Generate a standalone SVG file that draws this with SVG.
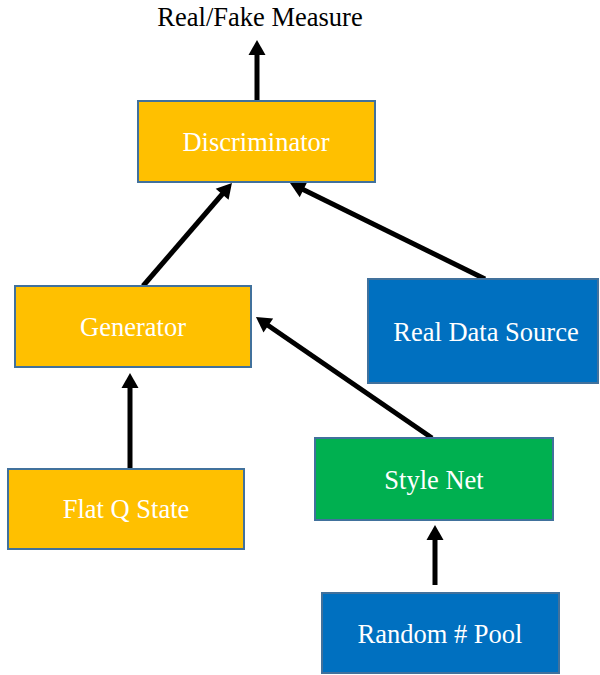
<svg xmlns="http://www.w3.org/2000/svg" width="600" height="675" viewBox="0 0 600 675">
<style>
.box{stroke:#41719C;stroke-width:2}
.o{fill:#FFC000}.b{fill:#0070C0}.g{fill:#00B050}
.lbl{font-family:"Liberation Serif","Times New Roman",serif;font-size:26.5px;fill:#FFFFFF;text-anchor:middle}
.title{font-family:"Liberation Serif","Times New Roman",serif;font-size:26.5px;fill:#000000;text-anchor:middle}
.arr{stroke:#000;stroke-width:5;fill:none;marker-end:url(#ah)}
</style>
<defs>
<marker id="ah" markerUnits="userSpaceOnUse" markerWidth="17" markerHeight="17" refX="5" refY="8.5" orient="auto" overflow="visible">
<path d="M0,0 L15,8.5 L0,17 Z" fill="#000"/>
</marker>
</defs>
<rect width="600" height="675" fill="#FFFFFF"/>
<text class="title" x="260" y="26">Real/Fake Measure</text>
<g id="connectors">
<line class="arr" x1="257" y1="101" x2="257" y2="50"/>
<line class="arr" x1="130" y1="469" x2="130" y2="383"/>
<line class="arr" x1="435" y1="585" x2="435" y2="535"/>
<line class="arr" x1="432" y1="438" x2="264.2" y2="322.7"/>
<line class="arr" x1="143" y1="286" x2="225.4" y2="190.5"/>
<line class="arr" x1="485" y1="279" x2="299" y2="187.4"/>
</g>
<g id="discriminator">
<rect class="box o" x="138" y="101" width="237" height="81"/>
<text class="lbl" x="256" y="151">Discriminator</text>
</g>
<g id="generator">
<rect class="box o" x="15" y="286" width="236" height="81"/>
<text class="lbl" x="133" y="336">Generator</text>
</g>
<g id="flat-q-state">
<rect class="box o" x="8" y="469" width="236" height="80"/>
<text class="lbl" x="126" y="518">Flat Q State</text>
</g>
<g id="real-data-source">
<rect class="box b" x="368" y="279" width="230" height="104"/>
<text class="lbl" x="486" y="341">Real Data Source</text>
</g>
<g id="style-net">
<rect class="box g" x="315" y="438" width="238" height="82"/>
<text class="lbl" x="434" y="489">Style Net</text>
</g>
<g id="random-pool">
<rect class="box b" x="322" y="593" width="237" height="80"/>
<text class="lbl" x="440" y="643">Random # Pool</text>
</g>
</svg>
